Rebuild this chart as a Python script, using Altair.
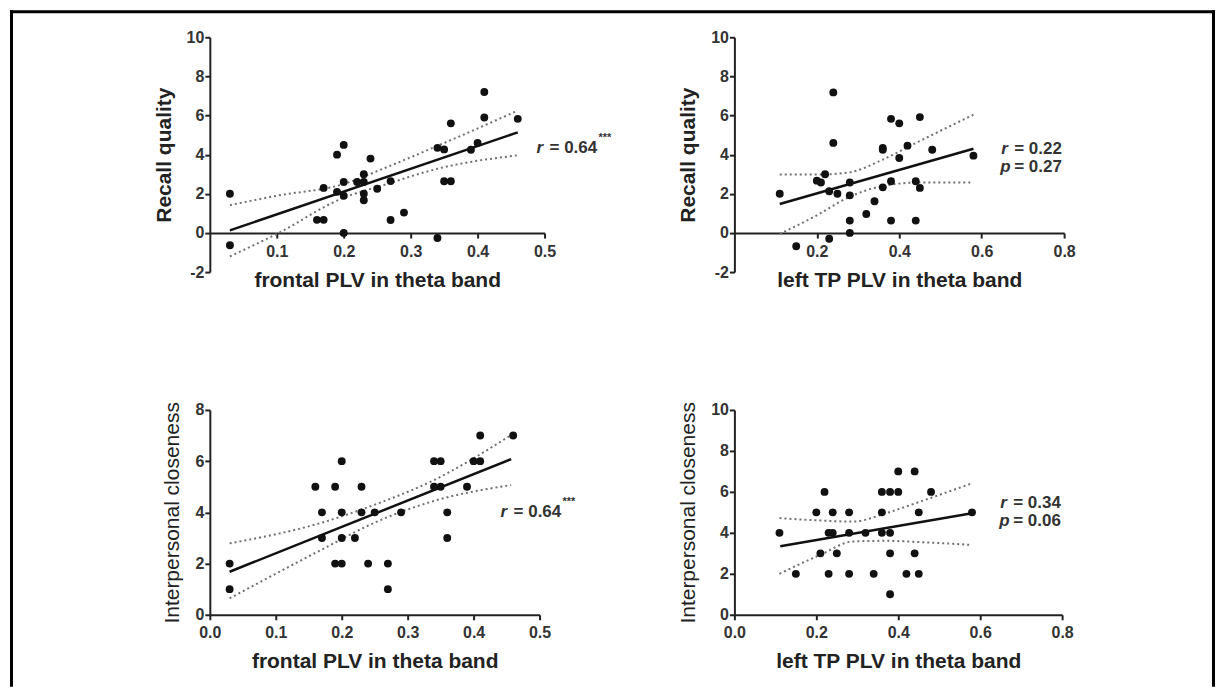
import altair as alt
import pandas as pd

FONT = "Liberation Sans"

# ---------------- Panel A: frontal PLV vs Recall quality ----------------
a_x = [0.03, 0.03, 0.16, 0.17, 0.17, 0.19, 0.20, 0.19, 0.20, 0.20, 0.20, 0.22, 0.23, 0.23, 0.23, 0.23,
       0.24, 0.25, 0.27, 0.27, 0.29, 0.34, 0.34, 0.35, 0.35, 0.36, 0.36, 0.39, 0.40, 0.41, 0.41, 0.46]
a_y = [2.0, -0.63, 0.67, 0.67, 2.3, 4.0, 4.5, 2.1, 2.6, 1.9, 0.0, 2.6, 3.0, 2.6, 2.0, 1.67,
       3.8, 2.26, 2.65, 0.66, 1.04, -0.26, 4.35, 4.27, 2.64, 2.64, 5.6, 4.25, 4.6, 7.2, 5.9, 5.83]
a_fit_x = [0.03, 0.46]
a_fit_y = [0.13, 5.14]
a_band_x = [0.03, 0.10, 0.20, 0.26, 0.34, 0.46]
a_band_up = [1.42, 1.90, 2.50, 3.30, 4.45, 6.25]
a_band_lo = [-1.20, -0.05, 1.80, 2.45, 3.28, 3.97]

# ---------------- Panel B: left TP PLV vs Recall quality ----------------
b_x = [0.11, 0.15, 0.20, 0.21, 0.22, 0.23, 0.23, 0.24, 0.24, 0.25, 0.28, 0.28, 0.28, 0.28, 0.32, 0.34,
       0.36, 0.36, 0.36, 0.38, 0.38, 0.38, 0.40, 0.40, 0.42, 0.44, 0.44, 0.45, 0.45, 0.48, 0.58]
b_y = [2.0, -0.68, 2.67, 2.58, 3.0, 2.13, -0.3, 7.18, 4.6, 2.0, 2.58, 1.92, 0.63, 0.0, 0.97, 1.62,
       4.34, 4.25, 2.33, 5.83, 2.64, 0.63, 5.6, 3.83, 4.46, 2.64, 0.63, 5.92, 2.3, 4.25, 3.95]
b_fit_x = [0.11, 0.58]
b_fit_y = [1.48, 4.30]
b_band_x = [0.11, 0.20, 0.28, 0.36, 0.45, 0.58]
b_band_up = [2.98, 2.98, 3.10, 3.75, 4.70, 6.04]
b_band_lo = [-0.05, 0.90, 1.85, 2.40, 2.58, 2.58]

# ---------------- Panel C: frontal PLV vs Interpersonal closeness ----------------
c_x = [0.03, 0.03, 0.16, 0.17, 0.17, 0.19, 0.19, 0.20, 0.20, 0.20, 0.20, 0.22, 0.23, 0.23, 0.24,
       0.25, 0.27, 0.27, 0.29, 0.34, 0.35, 0.34, 0.35, 0.36, 0.36, 0.39, 0.40, 0.41, 0.41, 0.46]
c_y = [2, 1, 5, 4, 3, 5, 2, 6, 4, 3, 2, 3, 5, 4, 2,
       4, 2, 1, 4, 6, 6, 5, 5, 4, 3, 5, 6, 6, 7, 7]
c_fit_x = [0.03, 0.457]
c_fit_y = [1.68, 6.08]
c_band_x = [0.03, 0.17, 0.25, 0.335, 0.457]
c_band_up = [2.79, 3.60, 4.30, 5.20, 7.02]
c_band_lo = [0.64, 2.55, 3.60, 4.41, 5.07]

# ---------------- Panel D: left TP PLV vs Interpersonal closeness ----------------
d_x = [0.11, 0.15, 0.20, 0.21, 0.22, 0.23, 0.23, 0.24, 0.24, 0.25, 0.28, 0.28, 0.28, 0.32, 0.34, 0.36,
       0.36, 0.36, 0.38, 0.38, 0.38, 0.38, 0.40, 0.40, 0.42, 0.44, 0.44, 0.45, 0.45, 0.48, 0.58]
d_y = [4, 2, 5, 3, 6, 4, 2, 4, 5, 3, 5, 4, 2, 4, 2, 6,
       5, 4, 6, 4, 3, 1, 7, 6, 2, 7, 3, 5, 2, 6, 5]
d_fit_x = [0.112, 0.58]
d_fit_y = [3.35, 4.96]
d_band_x = [0.11, 0.21, 0.29, 0.37, 0.45, 0.58]
d_band_up = [4.72, 4.60, 4.55, 4.96, 5.50, 6.42]
d_band_lo = [2.00, 2.93, 3.58, 3.61, 3.55, 3.41]

TXT = "#333333"
INK = "#111111"
ONE = pd.DataFrame({"t": [0]})


def text_layer(txt, px, py, size=17, style="normal", weight="bold"):
    return alt.Chart(pd.DataFrame({"t": [txt]})).mark_text(
        align="left", baseline="middle", font=FONT, fontSize=size,
        fontStyle=style, fontWeight=weight, color=TXT
    ).encode(x=alt.value(px), y=alt.value(py), text="t:N")


def frame_layers():
    # decorative figure frame (top, left, right edges), drawn relative to panel A
    top = alt.Chart(ONE).mark_rule(color="black", strokeWidth=3).encode(
        x=alt.value(-200), x2=alt.value(1006), y=alt.value(-25.5))
    left = alt.Chart(ONE).mark_rule(color="black", strokeWidth=3).encode(
        x=alt.value(-198.5), y=alt.value(-27), y2=alt.value(650))
    right = alt.Chart(ONE).mark_rule(color="black", strokeWidth=3).encode(
        x=alt.value(1004.5), y=alt.value(-27), y2=alt.value(650))
    return [top, left, right]


def panel(xs, ys, fx, fy, bx, bu, bl, xdom, ydom, xticks, yticks,
          xtitle, ytitle, w, h, xoff, ytw, notes):
    xs_ = alt.Scale(domain=xdom, nice=False, zero=False)
    ys_ = alt.Scale(domain=ydom, nice=False, zero=False)
    xax = alt.Axis(values=xticks, format=".1f", title=xtitle, offset=xoff)
    yax = alt.Axis(values=yticks, labelExpr="'' + datum.value", title=ytitle,
                   titleFontWeight=ytw)
    X = alt.X("x:Q", scale=xs_, axis=xax)
    Y = alt.Y("y:Q", scale=ys_, axis=yax)

    up = alt.Chart(pd.DataFrame({"x": bx, "y": bu})).mark_line(
        color="#707070", strokeWidth=2, strokeDash=[2, 3], interpolate="monotone"
    ).encode(x=X, y=Y)
    lo = alt.Chart(pd.DataFrame({"x": bx, "y": bl})).mark_line(
        color="#707070", strokeWidth=2, strokeDash=[2, 3], interpolate="monotone"
    ).encode(x=X, y=Y)
    fit = alt.Chart(pd.DataFrame({"x": fx, "y": fy})).mark_line(
        color=INK, strokeWidth=2.5
    ).encode(x=X, y=Y)
    pts = alt.Chart(pd.DataFrame({"x": xs, "y": ys})).mark_circle(
        size=62, color=INK, opacity=1
    ).encode(x=X, y=Y)
    layers = [up, lo, fit, pts] + notes
    return alt.layer(*layers).properties(width=w, height=h)


notes_a = [text_layer("r", 327, 111, style="italic"),
           text_layer("= 0.64", 340, 111),
           text_layer("***", 389, 101, size=11)] + frame_layers()
notes_b = [text_layer("r", 267, 112, style="italic"),
           text_layer("= 0.22", 280, 112),
           text_layer("p", 266, 130, style="italic"),
           text_layer("= 0.27", 280, 130)]
notes_c = [text_layer("r", 291, 102, style="italic"),
           text_layer("= 0.64", 304, 102),
           text_layer("***", 353, 92, size=11)]
notes_d = [text_layer("r", 266, 93, style="italic"),
           text_layer("= 0.34", 279, 93),
           text_layer("p", 265, 111, style="italic"),
           text_layer("= 0.06", 279, 111)]

p1 = panel(a_x, a_y, a_fit_x, a_fit_y, a_band_x, a_band_up, a_band_lo,
           [0, 0.5], [-2, 10], [0.1, 0.2, 0.3, 0.4, 0.5], [-2, 0, 2, 4, 6, 8, 10],
           "frontal PLV in theta band", "Recall quality", 335, 235, -39, "bold", notes_a)
p2 = panel(b_x, b_y, b_fit_x, b_fit_y, b_band_x, b_band_up, b_band_lo,
           [0, 0.8], [-2, 10], [0.2, 0.4, 0.6, 0.8], [-2, 0, 2, 4, 6, 8, 10],
           "left TP PLV in theta band", "Recall quality", 330, 235, -39, "bold", notes_b)
p3 = panel(c_x, c_y, c_fit_x, c_fit_y, c_band_x, c_band_up, c_band_lo,
           [0, 0.5], [0, 8], [0.0, 0.1, 0.2, 0.3, 0.4, 0.5], [0, 2, 4, 6, 8],
           "frontal PLV in theta band", "Interpersonal closeness", 330, 205, 0, "normal", notes_c)
p4 = panel(d_x, d_y, d_fit_x, d_fit_y, d_band_x, d_band_up, d_band_lo,
           [0, 0.8], [0, 10], [0.0, 0.2, 0.4, 0.6, 0.8], [0, 2, 4, 6, 8, 10],
           "left TP PLV in theta band", "Interpersonal closeness", 328, 205, 0, "normal", notes_d)

chart = alt.concat(
    p1, p2, p3, p4, columns=2,
    spacing={"row": 138, "column": 190}, bounds="flush"
).properties(
    padding={"left": 0, "top": 0, "right": 0, "bottom": 0},
    background="white"
).configure_view(stroke=None).configure_axis(
    grid=False,
    labelFont=FONT, labelFontSize=16, labelFontWeight="bold", labelColor=TXT,
    tickSize=5, tickWidth=2, tickColor="#222222",
    domainColor="#222222", domainWidth=2,
    titleFont=FONT, titleFontSize=21, titleFontWeight="bold", titleColor="#222222"
).configure_axisX(labelPadding=5, titlePadding=10, labelFlush=False).configure_axisY(
    labelPadding=1, titlePadding=12
)

chart.save("out.html", embed_options={"renderer": "svg", "actions": False})
